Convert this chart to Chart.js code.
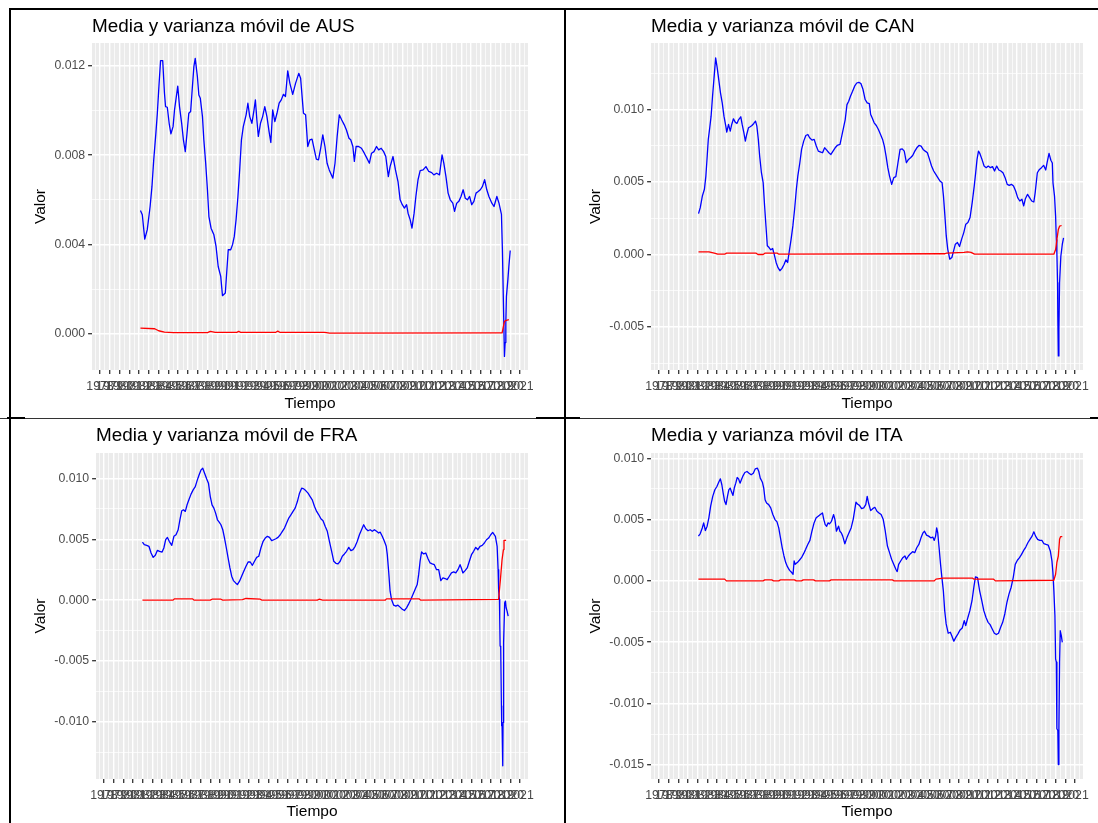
<!DOCTYPE html>
<html>
<head>
<meta charset="utf-8">
<script src="https://cdn.jsdelivr.net/npm/chart.js@4.4.1/dist/chart.umd.min.js"></script>
<style>
  body { margin: 0; background: #fff; width: 1098px; height: 823px; position: relative; overflow: hidden; }
  canvas { position: absolute; }
  .trazo { position: absolute; background: #000; }
</style>
</head>
<body>
<canvas id="gAUS" width="551" height="405" style="left:12px;top:11px"></canvas>
<canvas id="gCAN" width="531" height="405" style="left:567px;top:11px"></canvas>
<canvas id="gFRA" width="551" height="403" style="left:12px;top:420px"></canvas>
<canvas id="gITA" width="531" height="403" style="left:567px;top:420px"></canvas>

<!-- bordes del cuadro -->
<div class="trazo" style="left:9px;top:8px;width:1089px;height:2px"></div>
<div class="trazo" style="left:9px;top:8px;width:2px;height:815px"></div>
<div class="trazo" style="left:564px;top:8px;width:2px;height:815px"></div>
<div class="trazo" style="left:0px;top:418px;width:1098px;height:1px;background:#333"></div>
<div class="trazo" style="left:7px;top:417px;width:18px;height:2px"></div>
<div class="trazo" style="left:536px;top:417px;width:44px;height:2px"></div>
<div class="trazo" style="left:1090px;top:417px;width:8px;height:2px"></div>

<script>
// ---------- AUS ----------
const fechasMediaAUS = [
  1982.14, 1982.33, 1982.58, 1982.84, 1983.13, 1983.32, 1983.50, 1983.72, 1983.87, 1984.05,
  1984.20, 1984.42, 1984.60, 1984.71, 1984.89, 1985.08, 1985.26, 1985.48, 1985.63, 1985.96,
  1986.14, 1986.36, 1986.54, 1986.73, 1986.91, 1987.09, 1987.28, 1987.46, 1987.61, 1987.75,
  1987.97, 1988.12, 1988.27, 1988.49, 1988.63, 1988.82, 1989.00, 1989.15, 1989.37, 1989.66,
  1989.88, 1990.10, 1990.36, 1990.54, 1990.83, 1991.13, 1991.38, 1991.57, 1991.75, 1991.93,
  1992.12, 1992.30, 1992.48, 1992.67, 1992.96, 1993.14, 1993.33, 1993.55, 1993.77, 1993.91,
  1994.06, 1994.21, 1994.43, 1994.65, 1994.87, 1995.09, 1995.31, 1995.49, 1995.68, 1995.90,
  1996.12, 1996.34, 1996.56, 1996.78, 1996.99, 1997.22, 1997.44, 1997.73, 1998.02, 1998.35,
  1998.54, 1998.83, 1999.05, 1999.27, 1999.49, 1999.71, 1999.93, 2000.15, 2000.37, 2000.59,
  2000.81, 2001.03, 2001.25, 2001.47, 2001.84, 2002.06, 2002.28, 2002.50, 2002.75, 2003.01,
  2003.23, 2003.49, 2003.67, 2003.89, 2004.04, 2004.22, 2004.48, 2004.77, 2005.06, 2005.32,
  2005.58, 2005.80, 2006.05, 2006.31, 2006.53, 2006.79, 2007.04, 2007.26, 2007.52, 2007.70,
  2008.00, 2008.25, 2008.51, 2008.73, 2008.95, 2009.17, 2009.39, 2009.54, 2009.76, 2009.94,
  2010.16, 2010.34, 2010.56, 2010.78, 2011.08, 2011.37, 2011.66, 2011.96, 2012.18, 2012.47,
  2012.76, 2013.02, 2013.20, 2013.42, 2013.64, 2013.86, 2014.12, 2014.30, 2014.52, 2014.74,
  2014.96, 2015.18, 2015.40, 2015.62, 2015.84, 2016.06, 2016.28, 2016.50, 2016.72, 2016.94,
  2017.16, 2017.38, 2017.60, 2017.82, 2018.12, 2018.34, 2018.63, 2018.85, 2019.10, 2019.20,
  2019.34, 2019.41, 2019.48, 2019.55, 2019.61, 2019.76, 2019.86, 2020.00
];
const mediaAUS = [
  5.52e-3, 5.33e-3, 4.24e-3, 4.66e-3, 5.70e-3, 6.60e-3, 7.79e-3, 8.99e-3, 9.88e-3, 11.22e-3,
  12.24e-3, 12.24e-3, 10.78e-3, 10.18e-3, 10.15e-3, 9.43e-3, 8.96e-3, 9.28e-3, 10.03e-3, 11.10e-3,
  10.18e-3, 9.43e-3, 8.69e-3, 8.16e-3, 8.99e-3, 9.88e-3, 9.96e-3, 11.07e-3, 11.97e-3, 12.34e-3,
  11.52e-3, 10.70e-3, 10.55e-3, 9.73e-3, 8.69e-3, 7.64e-3, 6.45e-3, 5.25e-3, 4.73e-3, 4.43e-3,
  3.91e-3, 3.01e-3, 2.57e-3, 1.70e-3, 1.82e-3, 3.76e-3, 3.76e-3, 3.99e-3, 4.36e-3, 5.10e-3,
  6.15e-3, 7.34e-3, 8.69e-3, 9.28e-3, 9.81e-3, 10.33e-3, 9.73e-3, 9.43e-3, 10.03e-3, 10.48e-3,
  9.58e-3, 8.84e-3, 9.43e-3, 9.73e-3, 10.18e-3, 9.73e-3, 9.06e-3, 8.57e-3, 10.03e-3, 9.51e-3,
  9.88e-3, 10.33e-3, 10.48e-3, 10.73e-3, 10.63e-3, 11.78e-3, 11.22e-3, 10.73e-3, 11.22e-3, 11.67e-3,
  11.45e-3, 9.88e-3, 9.81e-3, 8.39e-3, 8.69e-3, 8.72e-3, 8.27e-3, 7.82e-3, 7.79e-3, 8.31e-3,
  8.91e-3, 8.39e-3, 7.64e-3, 7.34e-3, 6.97e-3, 7.64e-3, 8.84e-3, 9.81e-3, 9.58e-3, 9.36e-3,
  9.13e-3, 8.76e-3, 8.69e-3, 8.39e-3, 7.72e-3, 8.39e-3, 8.39e-3, 8.31e-3, 8.09e-3, 7.87e-3,
  7.64e-3, 8.09e-3, 8.16e-3, 8.39e-3, 8.24e-3, 8.31e-3, 8.16e-3, 7.94e-3, 7.04e-3, 7.49e-3,
  7.94e-3, 7.34e-3, 6.82e-3, 6.00e-3, 5.78e-3, 5.63e-3, 5.78e-3, 5.40e-3, 5.10e-3, 4.73e-3,
  5.40e-3, 6.15e-3, 6.90e-3, 7.31e-3, 7.34e-3, 7.49e-3, 7.27e-3, 7.22e-3, 7.12e-3, 7.19e-3,
  7.12e-3, 8.01e-3, 7.64e-3, 7.04e-3, 6.30e-3, 6.00e-3, 5.85e-3, 5.48e-3, 5.85e-3, 5.93e-3,
  6.15e-3, 6.45e-3, 6.07e-3, 6.00e-3, 6.15e-3, 5.78e-3, 5.93e-3, 6.30e-3, 6.37e-3, 6.45e-3,
  6.60e-3, 6.90e-3, 6.45e-3, 6.15e-3, 5.85e-3, 5.70e-3, 6.15e-3, 5.85e-3, 5.35e-3, 3.76e-3,
  0.55e-3, -1.02e-3, -0.40e-3, 0.49e-3, 1.67e-3, 2.42e-3, 3.01e-3, 3.73e-3
];
const fechasVarAUS = [
  1982.14, 1983.60, 1984.00, 1984.60, 1985.50, 1989.00, 1989.30, 1989.80, 1992.00, 1992.20,
  1992.40, 1996.00, 1996.20, 1996.40, 2001.00, 2001.50, 2019.07, 2019.17, 2019.41, 2019.61,
  2019.86
];
const varianzaAUS = [
  0.25e-3, 0.22e-3, 0.13e-3, 0.07e-3, 0.05e-3, 0.05e-3, 0.10e-3, 0.06e-3, 0.06e-3, 0.10e-3,
  0.06e-3, 0.06e-3, 0.11e-3, 0.06e-3, 0.06e-3, 0.02e-3, 0.03e-3, 0.03e-3, 0.55e-3, 0.60e-3,
  0.63e-3
];

// ---------- CAN ----------
const fechasMediaCAN = [
  1982.09, 1982.27, 1982.49, 1982.70, 1982.85, 1982.99, 1983.10, 1983.25, 1983.39, 1983.54,
  1983.72, 1983.86, 1984.00, 1984.18, 1984.36, 1984.54, 1984.72, 1984.91, 1985.01, 1985.19,
  1985.37, 1985.52, 1985.70, 1985.88, 1986.06, 1986.24, 1986.46, 1986.60, 1986.78, 1986.93,
  1987.07, 1987.25, 1987.43, 1987.61, 1987.80, 1987.98, 1988.12, 1988.27, 1988.41, 1988.59,
  1988.77, 1988.92, 1989.06, 1989.20, 1989.38, 1989.56, 1989.75, 1989.93, 1990.11, 1990.29,
  1990.50, 1990.72, 1990.94, 1991.12, 1991.30, 1991.45, 1991.66, 1991.84, 1992.02, 1992.20,
  1992.35, 1992.56, 1992.74, 1992.96, 1993.18, 1993.39, 1993.57, 1993.82, 1994.04, 1994.26,
  1994.47, 1994.73, 1994.91, 1995.12, 1995.34, 1995.56, 1995.77, 1995.99, 1996.21, 1996.42,
  1996.71, 1996.89, 1997.07, 1997.25, 1997.43, 1997.61, 1997.79, 1998.01, 1998.22, 1998.44,
  1998.66, 1998.87, 1999.09, 1999.31, 1999.52, 1999.74, 1999.88, 2000.03, 2000.24, 2000.46,
  2000.68, 2000.90, 2001.11, 2001.29, 2001.47, 2001.65, 2001.83, 2002.05, 2002.27, 2002.48,
  2002.70, 2002.92, 2003.14, 2003.35, 2003.57, 2003.79, 2004.00, 2004.22, 2004.44, 2004.65,
  2004.87, 2005.09, 2005.30, 2005.52, 2005.74, 2005.96, 2006.17, 2006.39, 2006.61, 2006.82,
  2007.04, 2007.26, 2007.40, 2007.55, 2007.69, 2007.84, 2008.05, 2008.27, 2008.45, 2008.63,
  2008.85, 2009.06, 2009.28, 2009.50, 2009.71, 2009.93, 2010.15, 2010.37, 2010.58, 2010.73,
  2010.87, 2011.02, 2011.16, 2011.38, 2011.60, 2011.82, 2012.03, 2012.25, 2012.47, 2012.68,
  2012.90, 2013.12, 2013.33, 2013.55, 2013.77, 2013.99, 2014.20, 2014.42, 2014.64, 2014.86,
  2015.07, 2015.29, 2015.51, 2015.69, 2015.87, 2016.09, 2016.30, 2016.52, 2016.74, 2016.88,
  2017.10, 2017.32, 2017.53, 2017.75, 2017.97, 2018.11, 2018.31, 2018.50, 2018.65, 2018.72,
  2018.88, 2018.99, 2019.06, 2019.12, 2019.19, 2019.22, 2019.27, 2019.33, 2019.40, 2019.53,
  2019.68, 2019.81
];
const mediaCAN = [
  2.82e-3, 3.23e-3, 4.04e-3, 4.50e-3, 5.41e-3, 6.79e-3, 7.94e-3, 8.74e-3, 9.54e-3, 10.92e-3,
  12.41e-3, 13.56e-3, 12.98e-3, 12.06e-3, 11.15e-3, 10.46e-3, 9.54e-3, 8.85e-3, 8.44e-3, 8.97e-3,
  8.51e-3, 8.97e-3, 9.36e-3, 9.13e-3, 9.04e-3, 9.31e-3, 9.50e-3, 8.97e-3, 8.39e-3, 7.82e-3,
  8.28e-3, 8.74e-3, 8.81e-3, 8.90e-3, 9.04e-3, 9.20e-3, 8.85e-3, 7.94e-3, 6.79e-3, 5.64e-3,
  4.95e-3, 3.35e-3, 1.97e-3, 0.60e-3, 0.48e-3, 0.32e-3, 0.41e-3, -0.05e-3, -0.55e-3, -0.89e-3,
  -1.12e-3, -0.96e-3, -0.67e-3, -0.37e-3, -0.55e-3, 0.14e-3, 1.06e-3, 1.97e-3, 3.12e-3, 4.50e-3,
  5.41e-3, 6.33e-3, 7.25e-3, 7.82e-3, 8.21e-3, 8.28e-3, 8.05e-3, 7.89e-3, 7.94e-3, 7.48e-3,
  7.13e-3, 7.06e-3, 7.02e-3, 7.36e-3, 7.20e-3, 7.02e-3, 6.90e-3, 7.13e-3, 7.36e-3, 7.52e-3,
  7.59e-3, 8.17e-3, 8.74e-3, 9.31e-3, 10.34e-3, 10.57e-3, 10.92e-3, 11.26e-3, 11.61e-3, 11.83e-3,
  11.88e-3, 11.79e-3, 11.38e-3, 10.69e-3, 10.46e-3, 10.41e-3, 9.66e-3, 9.43e-3, 9.08e-3, 8.90e-3,
  8.62e-3, 8.28e-3, 7.94e-3, 7.48e-3, 6.79e-3, 5.99e-3, 5.41e-3, 4.84e-3, 5.30e-3, 5.37e-3,
  6.33e-3, 7.25e-3, 7.29e-3, 7.13e-3, 6.33e-3, 6.56e-3, 6.67e-3, 6.83e-3, 7.13e-3, 7.36e-3,
  7.52e-3, 7.48e-3, 7.25e-3, 7.13e-3, 7.02e-3, 6.56e-3, 6.10e-3, 5.76e-3, 5.53e-3, 5.30e-3,
  5.07e-3, 4.95e-3, 4.04e-3, 2.66e-3, 1.28e-3, 0.37e-3, -0.32e-3, -0.21e-3, 0.25e-3, 0.71e-3,
  0.83e-3, 0.55e-3, 1.06e-3, 1.51e-3, 2.09e-3, 2.20e-3, 2.55e-3, 3.58e-3, 4.72e-3, 5.64e-3,
  6.56e-3, 7.13e-3, 6.97e-3, 6.56e-3, 6.10e-3, 5.99e-3, 6.10e-3, 5.99e-3, 6.06e-3, 5.76e-3,
  6.10e-3, 5.83e-3, 5.76e-3, 5.64e-3, 5.30e-3, 4.84e-3, 4.77e-3, 4.84e-3, 4.72e-3, 4.38e-3,
  3.92e-3, 3.69e-3, 3.81e-3, 3.35e-3, 3.85e-3, 4.15e-3, 3.92e-3, 3.69e-3, 3.62e-3, 4.27e-3,
  5.64e-3, 5.87e-3, 5.99e-3, 6.15e-3, 5.83e-3, 6.33e-3, 6.98e-3, 6.50e-3, 6.31e-3, 4.93e-3,
  4.01e-3, 2.64e-3, 1.03e-3, 0.12e-3, -1.95e-3, -4.36e-3, -7.00e-3, -5.16e-3, -1.95e-3, -0.12e-3,
  0.69e-3, 1.15e-3
];
const fechasVarCAN = [
  1982.09, 1983.17, 1983.72, 1984.08, 1984.80, 1984.98, 1988.05, 1988.23, 1988.77, 1988.95,
  1990.21, 1990.39, 2007.55, 2007.73, 2009.53, 2009.89, 2010.25, 2010.61, 2018.81, 2018.99,
  2019.12, 2019.27, 2019.40, 2019.61
];
const varianzaCAN = [
  0.18e-3, 0.18e-3, 0.09e-3, 0.02e-3, 0.02e-3, 0.09e-3, 0.09e-3, 0.00e-3, 0.00e-3, 0.09e-3,
  0.09e-3, 0.02e-3, 0.05e-3, 0.09e-3, 0.14e-3, 0.18e-3, 0.14e-3, 0.02e-3, 0.02e-3, 0.34e-3,
  1.03e-3, 1.72e-3, 1.95e-3, 2.00e-3
];

// ---------- FRA ----------
const fechasMediaFRA = [
  1981.98, 1982.17, 1982.42, 1982.65, 1982.87, 1983.09, 1983.31, 1983.53, 1983.75, 1984.01,
  1984.19, 1984.38, 1984.56, 1984.75, 1985.01, 1985.23, 1985.45, 1985.67, 1985.85, 1986.04,
  1986.22, 1986.41, 1986.59, 1986.78, 1987.00, 1987.22, 1987.44, 1987.62, 1987.81, 1988.03,
  1988.21, 1988.40, 1988.62, 1988.80, 1988.99, 1989.17, 1989.36, 1989.54, 1989.73, 1989.91,
  1990.09, 1990.28, 1990.46, 1990.65, 1990.83, 1991.02, 1991.20, 1991.38, 1991.61, 1991.79,
  1992.01, 1992.23, 1992.45, 1992.68, 1992.90, 1993.12, 1993.34, 1993.56, 1993.78, 1994.00,
  1994.22, 1994.45, 1994.67, 1994.89, 1995.11, 1995.33, 1995.55, 1995.77, 1995.99, 1996.22,
  1996.44, 1996.66, 1996.88, 1997.10, 1997.32, 1997.54, 1997.76, 1997.99, 1998.21, 1998.43,
  1998.65, 1998.87, 1999.09, 1999.31, 1999.53, 1999.76, 1999.98, 2000.20, 2000.42, 2000.64,
  2000.86, 2001.08, 2001.30, 2001.53, 2001.75, 2001.97, 2002.19, 2002.41, 2002.63, 2002.85,
  2003.07, 2003.30, 2003.52, 2003.74, 2003.96, 2004.18, 2004.40, 2004.62, 2004.84, 2005.06,
  2005.29, 2005.51, 2005.73, 2005.95, 2006.17, 2006.39, 2006.54, 2006.76, 2006.98, 2007.17,
  2007.28, 2007.42, 2007.57, 2007.72, 2007.94, 2008.16, 2008.38, 2008.60, 2008.83, 2009.05,
  2009.27, 2009.49, 2009.71, 2009.93, 2010.15, 2010.37, 2010.52, 2010.67, 2010.82, 2011.04,
  2011.26, 2011.48, 2011.70, 2011.92, 2012.14, 2012.37, 2012.59, 2012.81, 2013.03, 2013.25,
  2013.47, 2013.69, 2013.91, 2014.14, 2014.36, 2014.58, 2014.80, 2014.95, 2015.09, 2015.32,
  2015.54, 2015.76, 2015.98, 2016.20, 2016.42, 2016.64, 2016.86, 2017.09, 2017.31, 2017.53,
  2017.75, 2017.97, 2018.17, 2018.45, 2018.63, 2018.73, 2018.79, 2018.87, 2018.90, 2018.94,
  2019.00, 2019.07, 2019.10, 2019.14, 2019.21, 2019.24, 2019.30, 2019.41, 2019.49, 2019.56,
  2019.66, 2019.77
];
const mediaFRA = [
  4.78e-3, 4.56e-3, 4.51e-3, 4.43e-3, 3.88e-3, 3.52e-3, 3.69e-3, 4.10e-3, 4.02e-3, 3.96e-3,
  4.29e-3, 4.97e-3, 5.16e-3, 4.84e-3, 4.51e-3, 5.25e-3, 5.38e-3, 5.79e-3, 6.61e-3, 7.35e-3,
  7.43e-3, 7.30e-3, 7.84e-3, 8.25e-3, 8.72e-3, 9.07e-3, 9.34e-3, 9.81e-3, 10.25e-3, 10.71e-3,
  10.85e-3, 10.44e-3, 9.97e-3, 9.62e-3, 8.52e-3, 7.84e-3, 7.57e-3, 7.16e-3, 6.61e-3, 6.42e-3,
  6.20e-3, 5.79e-3, 5.11e-3, 4.29e-3, 3.47e-3, 2.65e-3, 1.97e-3, 1.61e-3, 1.42e-3, 1.28e-3,
  1.56e-3, 1.97e-3, 2.38e-3, 2.79e-3, 3.14e-3, 3.14e-3, 2.87e-3, 3.20e-3, 3.52e-3, 3.61e-3,
  4.29e-3, 4.84e-3, 5.11e-3, 5.25e-3, 5.16e-3, 4.89e-3, 4.97e-3, 5.05e-3, 5.16e-3, 5.38e-3,
  5.66e-3, 5.93e-3, 6.34e-3, 6.75e-3, 7.02e-3, 7.30e-3, 7.57e-3, 8.11e-3, 8.80e-3, 9.21e-3,
  9.15e-3, 8.99e-3, 8.80e-3, 8.52e-3, 8.25e-3, 7.70e-3, 7.30e-3, 7.02e-3, 6.69e-3, 6.53e-3,
  6.07e-3, 5.66e-3, 4.84e-3, 4.02e-3, 3.20e-3, 3.03e-3, 2.98e-3, 3.20e-3, 3.61e-3, 3.80e-3,
  4.02e-3, 4.34e-3, 4.07e-3, 4.15e-3, 4.43e-3, 4.84e-3, 5.38e-3, 5.79e-3, 6.20e-3, 5.87e-3,
  5.71e-3, 5.79e-3, 5.66e-3, 5.79e-3, 5.66e-3, 5.52e-3, 5.60e-3, 5.25e-3, 4.84e-3, 4.43e-3,
  3.74e-3, 2.38e-3, 0.74e-3, 0.05e-3, -0.41e-3, -0.49e-3, -0.41e-3, -0.57e-3, -0.74e-3, -0.85e-3,
  -0.63e-3, -0.30e-3, 0.05e-3, 0.46e-3, 0.87e-3, 1.28e-3, 2.10e-3, 3.20e-3, 3.96e-3, 3.80e-3,
  3.88e-3, 3.42e-3, 3.06e-3, 2.98e-3, 2.92e-3, 2.51e-3, 2.51e-3, 1.61e-3, 1.83e-3, 1.78e-3,
  1.69e-3, 1.97e-3, 2.24e-3, 2.32e-3, 2.24e-3, 2.51e-3, 2.92e-3, 2.60e-3, 2.24e-3, 2.43e-3,
  2.65e-3, 3.20e-3, 3.74e-3, 4.02e-3, 4.34e-3, 4.15e-3, 4.43e-3, 4.51e-3, 4.70e-3, 4.97e-3,
  5.11e-3, 5.38e-3, 5.57e-3, 5.25e-3, 4.43e-3, 2.52e-3, 0.74e-3, 0.06e-3, -1.58e-3, -3.77e-3,
  -3.82e-3, -8.69e-3, -10.33e-3, -10.19e-3, -13.61e-3, -10.05e-3, -3.49e-3, -0.21e-3, -0.08e-3, -0.62e-3,
  -0.90e-3, -1.31e-3
];
const fechasVarFRA = [
  1981.98, 1985.12, 1985.30, 1987.14, 1987.33, 1988.99, 1989.17, 1990.09, 1990.28, 1992.31,
  1992.68, 1994.15, 1994.33, 2000.05, 2000.23, 2000.60, 2007.06, 2007.20, 2010.56, 2010.74,
  2018.78, 2018.97, 2019.14, 2019.28, 2019.34, 2019.56
];
const varianzaFRA = [
  0.00e-3, 0.00e-3, 0.11e-3, 0.11e-3, 0.00e-3, 0.00e-3, 0.08e-3, 0.08e-3, 0.00e-3, 0.05e-3,
  0.14e-3, 0.08e-3, 0.00e-3, 0.00e-3, 0.08e-3, 0.00e-3, 0.00e-3, 0.11e-3, 0.11e-3, 0.00e-3,
  0.06e-3, 1.70e-3, 3.34e-3, 4.16e-3, 4.92e-3, 4.92e-3
];

// ---------- ITA ----------
const fechasMediaITA = [
  1982.08, 1982.26, 1982.48, 1982.62, 1982.80, 1982.98, 1983.16, 1983.34, 1983.56, 1983.78,
  1983.99, 1984.21, 1984.35, 1984.50, 1984.64, 1984.79, 1984.93, 1985.08, 1985.22, 1985.36,
  1985.51, 1985.65, 1985.80, 1985.94, 1986.09, 1986.23, 1986.38, 1986.52, 1986.70, 1986.88,
  1987.10, 1987.31, 1987.53, 1987.75, 1987.96, 1988.18, 1988.32, 1988.47, 1988.69, 1988.83,
  1988.97, 1989.12, 1989.34, 1989.55, 1989.77, 1989.99, 1990.20, 1990.38, 1990.56, 1990.74,
  1990.92, 1991.10, 1991.29, 1991.50, 1991.72, 1991.86, 1991.97, 1992.08, 1992.30, 1992.51,
  1992.73, 1992.95, 1993.16, 1993.38, 1993.60, 1993.81, 1994.03, 1994.25, 1994.46, 1994.68,
  1994.90, 1995.04, 1995.18, 1995.33, 1995.47, 1995.62, 1995.83, 1996.05, 1996.19, 1996.34,
  1996.56, 1996.70, 1996.84, 1996.99, 1997.21, 1997.42, 1997.64, 1997.86, 1998.07, 1998.22,
  1998.36, 1998.51, 1998.72, 1998.94, 1999.16, 1999.37, 1999.52, 1999.66, 1999.88, 2000.09,
  2000.31, 2000.53, 2000.74, 2000.96, 2001.18, 2001.39, 2001.61, 2001.83, 2002.04, 2002.26,
  2002.48, 2002.62, 2002.77, 2002.98, 2003.20, 2003.42, 2003.56, 2003.78, 2003.99, 2004.21,
  2004.43, 2004.64, 2004.86, 2005.08, 2005.29, 2005.44, 2005.65, 2005.87, 2006.09, 2006.30,
  2006.45, 2006.59, 2006.70, 2006.81, 2006.95, 2007.10, 2007.24, 2007.39, 2007.53, 2007.68,
  2007.89, 2008.11, 2008.25, 2008.47, 2008.69, 2008.90, 2009.12, 2009.34, 2009.55, 2009.70,
  2009.91, 2010.13, 2010.35, 2010.56, 2010.71, 2010.92, 2011.14, 2011.36, 2011.57, 2011.79,
  2012.01, 2012.22, 2012.44, 2012.66, 2012.87, 2013.09, 2013.31, 2013.52, 2013.74, 2013.96,
  2014.17, 2014.39, 2014.61, 2014.82, 2015.04, 2015.26, 2015.47, 2015.69, 2015.91, 2016.12,
  2016.34, 2016.56, 2016.74, 2016.92, 2017.13, 2017.35, 2017.57, 2017.78, 2018.00, 2018.22,
  2018.44, 2018.61, 2018.71, 2018.81, 2018.92, 2018.99, 2019.06, 2019.12, 2019.22, 2019.27,
  2019.33, 2019.40, 2019.47, 2019.58, 2019.68
];
const mediaITA = [
  3.65e-3, 3.84e-3, 4.32e-3, 4.73e-3, 4.11e-3, 4.46e-3, 5.14e-3, 6.08e-3, 6.89e-3, 7.43e-3,
  7.70e-3, 8.11e-3, 8.32e-3, 7.84e-3, 7.16e-3, 6.49e-3, 6.22e-3, 6.89e-3, 7.43e-3, 7.57e-3,
  7.24e-3, 6.97e-3, 7.62e-3, 7.97e-3, 8.43e-3, 8.32e-3, 7.97e-3, 8.24e-3, 8.59e-3, 8.84e-3,
  8.92e-3, 8.78e-3, 8.65e-3, 8.78e-3, 9.14e-3, 9.19e-3, 8.92e-3, 8.38e-3, 8.05e-3, 7.57e-3,
  6.62e-3, 6.35e-3, 6.22e-3, 5.95e-3, 5.41e-3, 5.00e-3, 4.81e-3, 4.32e-3, 3.51e-3, 2.70e-3,
  2.03e-3, 1.49e-3, 1.14e-3, 0.86e-3, 0.68e-3, 0.54e-3, 1.62e-3, 1.35e-3, 1.49e-3, 1.68e-3,
  1.89e-3, 2.22e-3, 2.57e-3, 2.97e-3, 3.30e-3, 4.05e-3, 4.73e-3, 5.14e-3, 5.27e-3, 5.41e-3,
  5.54e-3, 5.00e-3, 4.59e-3, 4.46e-3, 4.73e-3, 4.65e-3, 4.86e-3, 5.41e-3, 5.00e-3, 4.05e-3,
  4.46e-3, 4.05e-3, 3.92e-3, 3.65e-3, 3.03e-3, 3.51e-3, 3.92e-3, 4.32e-3, 5.00e-3, 5.73e-3,
  6.43e-3, 6.27e-3, 6.16e-3, 5.89e-3, 5.95e-3, 6.22e-3, 6.89e-3, 6.35e-3, 5.73e-3, 5.89e-3,
  6.00e-3, 5.68e-3, 5.54e-3, 5.41e-3, 5.00e-3, 4.05e-3, 2.84e-3, 2.30e-3, 1.76e-3, 1.35e-3,
  0.95e-3, 0.76e-3, 1.35e-3, 1.62e-3, 1.89e-3, 2.03e-3, 1.76e-3, 2.03e-3, 2.22e-3, 2.38e-3,
  2.30e-3, 2.70e-3, 2.97e-3, 3.51e-3, 3.92e-3, 4.05e-3, 3.73e-3, 3.65e-3, 3.51e-3, 3.57e-3,
  3.30e-3, 3.65e-3, 4.32e-3, 3.92e-3, 2.70e-3, 1.35e-3, 0.27e-3, -0.81e-3, -2.43e-3, -3.51e-3,
  -4.27e-3, -4.19e-3, -4.46e-3, -4.92e-3, -4.59e-3, -4.32e-3, -4.00e-3, -3.84e-3, -3.24e-3, -3.65e-3,
  -3.03e-3, -2.43e-3, -1.62e-3, -0.41e-3, 0.32e-3, 0.27e-3, -0.81e-3, -1.62e-3, -2.43e-3, -2.97e-3,
  -3.38e-3, -3.57e-3, -3.92e-3, -4.27e-3, -4.38e-3, -4.27e-3, -3.78e-3, -3.38e-3, -2.70e-3, -1.76e-3,
  -1.08e-3, -0.54e-3, 0.27e-3, 1.35e-3, 1.68e-3, 1.89e-3, 2.16e-3, 2.49e-3, 2.76e-3, 3.11e-3,
  3.38e-3, 3.65e-3, 4.00e-3, 3.65e-3, 3.38e-3, 3.30e-3, 3.30e-3, 3.03e-3, 2.97e-3, 2.92e-3,
  2.44e-3, 1.63e-3, 0.68e-3, -0.81e-3, -2.85e-3, -6.37e-3, -6.63e-3, -12.06e-3, -12.20e-3, -14.98e-3,
  -12.06e-3, -6.63e-3, -4.07e-3, -4.47e-3, -5.01e-3
];
const fechasVarITA = [
  1982.08, 1984.79, 1984.97, 1988.76, 1988.94, 1989.66, 1989.84, 1990.38, 1990.56, 1992.01,
  1992.19, 1992.73, 1992.91, 1993.99, 1994.17, 1995.62, 1995.80, 2002.12, 2002.30, 2006.45,
  2006.63, 2007.35, 2010.42, 2010.56, 2012.58, 2012.77, 2018.81, 2018.99, 2019.12, 2019.27,
  2019.40, 2019.50, 2019.68
];
const varianzaITA = [
  0.14e-3, 0.14e-3, 0.00e-3, 0.00e-3, 0.08e-3, 0.08e-3, 0.00e-3, 0.00e-3, 0.08e-3, 0.08e-3,
  0.00e-3, 0.00e-3, 0.08e-3, 0.08e-3, 0.00e-3, 0.00e-3, 0.08e-3, 0.08e-3, 0.00e-3, 0.00e-3,
  0.14e-3, 0.22e-3, 0.22e-3, 0.14e-3, 0.14e-3, 0.00e-3, 0.05e-3, 0.54e-3, 1.50e-3, 2.03e-3,
  3.39e-3, 3.61e-3, 3.61e-3
];

// limites del eje del tiempo (años)
const tiempoMin = 1977.18;
const tiempoMax = 2021.82;

Chart.defaults.font.family = '"Liberation Sans", Arial, sans-serif';
Chart.defaults.color = '#4d4d4d';

// fondo gris del panel a la manera de ggplot
const fondoPanel = {
  id: 'fondoPanel',
  beforeDraw(chart) {
    const {ctx, chartArea: a} = chart;
    ctx.save();
    ctx.fillStyle = '#ebebeb';
    ctx.fillRect(a.left, a.top, a.right - a.left, a.bottom - a.top);
    ctx.restore();
  }
};

function esMayor(v, paso) {
  const r = v / paso;
  return Math.abs(r - Math.round(r)) < 1e-6;
}

// rejilla blanca: lineas mayores gruesas, menores finas, marcas solo en las mayores
function rejilla(paso) {
  return {
    color: '#ffffff',
    lineWidth: c => (c.tick && esMayor(c.tick.value, paso)) ? 1.4 : 0.7,
    tickColor: c => (c.tick && esMayor(c.tick.value, paso)) ? '#333333' : 'rgba(0,0,0,0)',
    tickWidth: 1.3,
    tickLength: 3.9,
    drawTicks: true
  };
}

function puntos(fechas, valores) {
  return fechas.map((f, i) => ({x: f, y: valores[i]}));
}

const tamTitulo = 18.9;

function crearGrafico(p) {
  const canvas = document.getElementById(p.id);
  const ancho = canvas.width, alto = canvas.height;
  new Chart(canvas, {
    type: 'line',
    data: {
      datasets: [
        { label: 'Media', data: puntos(p.fechasMedia, p.media), borderColor: 'blue',
          borderWidth: 1.3, pointRadius: 0, borderJoinStyle: 'round', order: 1 },
        { label: 'Varianza', data: puntos(p.fechasVar, p.varianza), borderColor: 'red',
          borderWidth: 1.3, pointRadius: 0, borderJoinStyle: 'round', order: 0 }
      ]
    },
    options: {
      responsive: false,
      animation: false,
      events: [],
      layout: { padding: { left: 0, top: 0, bottom: 0, right: ancho - p.area.right } },
      plugins: {
        legend: { display: false },
        tooltip: { enabled: false },
        title: {
          display: true,
          text: 'Media y varianza móvil de ' + p.pais,
          align: 'start',
          fullSize: false,
          color: '#000000',
          font: { size: tamTitulo, weight: 'normal' },
          padding: { top: 4.5, bottom: p.area.top - 4.5 - tamTitulo * 1.2 }
        }
      },
      scales: {
        x: {
          type: 'linear',
          min: tiempoMin,
          max: tiempoMax,
          afterFit: s => { s.height = alto - p.area.bottom; },
          border: { display: false },
          grid: rejilla(1),
          ticks: {
            stepSize: 0.5,
            includeBounds: false,
            autoSkip: false,
            maxRotation: 0,
            minRotation: 0,
            padding: 5,
            color: '#474747',
            font: { size: 12.3 },
            callback: v => esMayor(v, 1) ? String(Math.round(v)) : ''
          },
          title: {
            display: true,
            text: 'Tiempo',
            color: '#000000',
            font: { size: 15.5 },
            padding: { top: 0, bottom: p.padTiempo }
          }
        },
        y: {
          min: p.yMin,
          max: p.yMax,
          afterFit: s => { s.width = p.area.left; },
          border: { display: false },
          grid: rejilla(p.paso),
          ticks: {
            stepSize: p.paso / 2,
            includeBounds: false,
            padding: 2.9,
            color: '#4d4d4d',
            font: { size: 12.3 },
            callback: v => esMayor(v, p.paso) ? v.toFixed(3) : ''
          },
          title: {
            display: true,
            text: 'Valor',
            color: '#000000',
            font: { size: 15.5 },
            padding: { top: 19.1, bottom: 0 }
          }
        }
      }
    },
    plugins: [fondoPanel]
  });
}

const paneles = [
  { id: 'gAUS', pais: 'AUS', fechasMedia: fechasMediaAUS, media: mediaAUS, fechasVar: fechasVarAUS, varianza: varianzaAUS,
    yMin: -0.00163, yMax: 0.01303, paso: 0.004, padTiempo: 3.4, area: { left: 80, top: 32, right: 516, bottom: 359 } },
  { id: 'gCAN', pais: 'CAN', fechasMedia: fechasMediaCAN, media: mediaCAN, fechasVar: fechasVarCAN, varianza: varianzaCAN,
    yMin: -0.00797, yMax: 0.01459, paso: 0.005, padTiempo: 3.4, area: { left: 84, top: 32, right: 516, bottom: 359 } },
  { id: 'gFRA', pais: 'FRA', fechasMedia: fechasMediaFRA, media: mediaFRA, fechasVar: fechasVarFRA, varianza: varianzaFRA,
    yMin: -0.0147, yMax: 0.0121, paso: 0.005, padTiempo: 2.0, area: { left: 84, top: 33, right: 516, bottom: 359 } },
  { id: 'gITA', pais: 'ITA', fechasMedia: fechasMediaITA, media: mediaITA, fechasVar: fechasVarITA, varianza: varianzaITA,
    yMin: -0.01616, yMax: 0.01043, paso: 0.005, padTiempo: 2.0, area: { left: 84, top: 33, right: 516, bottom: 359 } }
];

paneles.forEach(crearGrafico);
</script>
</body>
</html>
